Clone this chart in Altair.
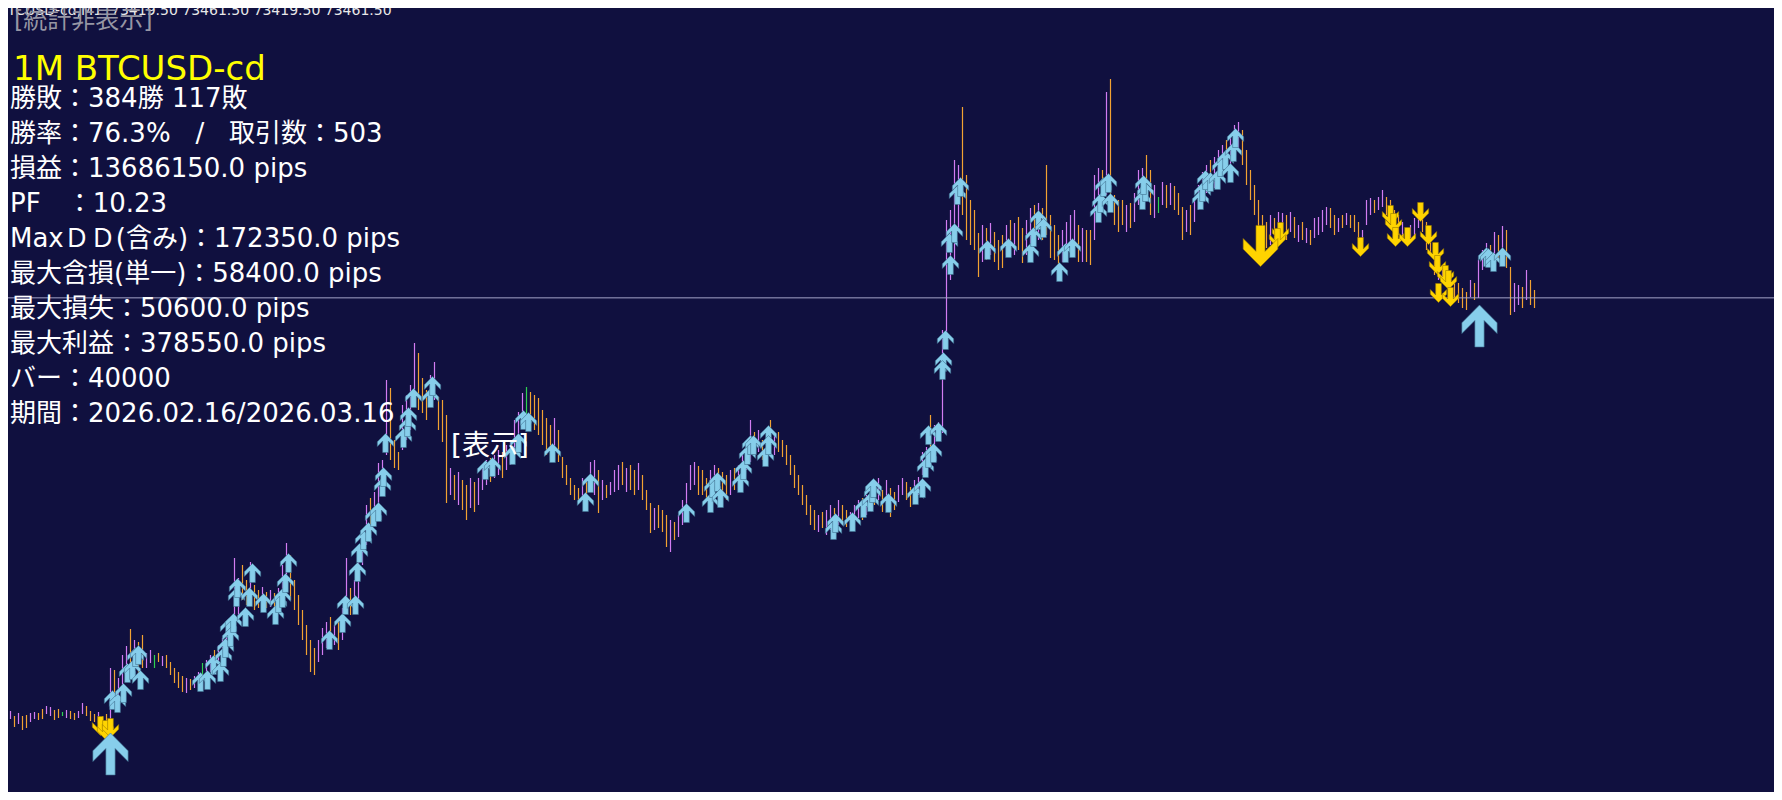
import altair as alt
import pandas as pd

# ---------------- data ----------------
HIGH = [
69320,69300,69330,69280,69310,69280,69290,69310,69320,69310,
69350,69380,69370,69340,69350,69320,69340,69330,69310,69330,
69410,69380,69330,69300,69320,69280,69300,69760,69740,69660,
69890,69980,70150,70040,70020,70090,69910,69940,69890,69910,
69880,69890,69820,69760,69720,69680,69660,69650,69680,69720,
69810,69840,69890,69940,69990,70060,70140,70270,70860,70660,
70790,70640,70820,70590,70540,70570,70520,70540,70510,70560,
70790,71010,70890,70640,70490,70340,70190,70040,69960,70040,
70160,70220,70270,70190,70240,70360,70860,70560,70640,70840,
71140,71390,71460,71520,71810,71840,72640,72560,72040,71920,
72390,72490,72590,73010,72910,72660,72540,72690,72820,72470,
72440,72290,71760,71690,71720,71640,71590,71660,71620,71660,
71790,71840,71860,71890,71940,71920,71990,72040,72240,72320,
72510,72570,72520,72490,72460,72340,72260,72190,72260,72140,
71870,71790,71660,71590,71560,71660,71640,71820,71840,71740,
71640,71590,71620,71740,71790,71820,71760,71790,71740,71810,
71690,71540,71410,71360,71390,71340,71290,71240,71220,71290,
71440,71610,71790,71820,71780,71740,71660,71740,71790,71760,
71720,71690,71740,71760,71790,71890,72040,72240,72120,72140,
72040,71990,72240,72090,72120,72040,71990,71890,71790,71690,
71590,71490,71390,71340,71290,71320,71340,71390,71360,71440,
71390,71340,71320,71390,71440,71460,71490,71590,71640,71660,
71540,71640,71560,71520,71590,71660,71620,71570,71640,71670,
71920,71970,72290,72190,72220,73140,74240,74340,74840,74790,
75370,74690,74440,74340,74110,74190,74160,74210,74120,74040,
74090,74190,74240,74210,74270,74160,74240,74360,74390,74410,
74360,74790,74290,74190,74090,74140,74220,74290,74340,74190,
74160,74140,74140,74690,74760,74740,75520,75650,74490,74440,
74440,74390,74410,74510,74740,74760,74890,74740,74590,74470,
74620,74590,74610,74580,74510,74370,74340,74390,74440,74590,
74720,74790,74840,74870,74940,74990,75040,75090,75190,75220,
75140,74940,74740,74590,74440,74290,74220,74290,74260,74320,
74310,74290,74320,74270,74190,74220,74160,74140,74260,74270,
74340,74370,74360,74290,74260,74290,74310,74290,74290,74220,
74140,74440,74460,74440,74470,74540,74470,74440,74340,74290,
74220,74160,74190,74260,74310,74290,74220,74090,73970,73890,
73790,73760,73690,73640,73610,73560,73520,73640,73610,73840,
73940,74010,73990,74120,74090,74180,74140,73770,73610,73590,
73570,73740,73640,73540,
]

LOW = [
69230,69200,69250,69170,69200,69140,69160,69220,69250,69240,
69250,69300,69280,69240,69260,69280,69260,69250,69240,69260,
69300,69280,69230,69220,69200,69170,69200,69210,69410,69440,
69540,69640,69760,69740,69690,69760,69760,69810,69760,69820,
69780,69760,69690,69610,69560,69520,69510,69540,69560,69600,
69660,69670,69720,69760,69810,69860,69940,70040,70190,70290,
70440,70390,70470,70340,70360,70390,70360,70370,70340,70410,
70490,70610,70440,70340,70190,70040,69890,69720,69690,69820,
69890,69960,70040,69990,69940,70040,70390,70290,70340,70440,
70790,70990,71090,71190,71340,71490,71890,71840,71760,71740,
71940,72040,72140,72440,72340,72310,72240,72390,72440,72140,
72020,71410,71490,71440,71390,71340,71240,71360,71320,71390,
71540,71590,71620,71660,71690,71660,71740,71790,71890,71990,
72190,72240,72160,72140,72090,71990,71890,71840,71940,71820,
71660,71590,71490,71440,71420,71460,71440,71520,71490,71310,
71440,71460,71490,71520,71540,71590,71520,71540,71490,71540,
71440,71340,71110,71140,71160,71120,70970,70920,71040,71070,
71190,71290,71540,71590,71490,71490,71440,71490,71540,71460,
71440,71440,71490,71540,71560,71640,71740,71820,71890,71920,
71840,71820,71890,71890,71920,71870,71790,71690,71560,71490,
71390,71290,71190,71140,71120,71160,71090,71140,71160,71190,
71190,71170,71160,71220,71260,71240,71290,71390,71390,71440,
71320,71390,71270,71340,71420,71490,71440,71370,71460,71490,
71690,71740,71840,71890,72040,72110,72970,73640,73820,74140,
74290,74040,73990,73940,73670,73820,73840,73890,73820,73740,
73760,73890,73940,73890,73940,73810,73890,73990,74020,74040,
74040,74090,73860,73840,73740,73820,73890,73990,73990,73820,
73820,73820,73790,74040,74440,74390,74490,74440,74190,74120,
74190,74120,74160,74220,74390,74440,74490,74290,74260,74310,
74390,74360,74390,74340,74290,74040,74120,74090,74220,74340,
74440,74510,74540,74560,74640,74690,74740,74790,74890,74940,
74790,74590,74440,74290,74160,74040,73960,73990,74040,74090,
74090,74040,74120,74060,74020,74040,74010,73990,74060,74090,
74120,74190,74160,74090,74120,74160,74190,74160,74120,74040,
74020,74190,74290,74310,74340,74370,74290,74240,74160,74090,
74040,74010,74060,74090,74160,74120,73940,73910,73690,73640,
73610,73590,73540,73460,73410,73360,73340,73470,73440,73460,
73740,73820,73790,73860,73820,73890,73760,73290,73320,73390,
73360,73440,73390,73360,
]

# u = up bar (close > open), d = down bar, g = unchanged
DIR_GROUPS = [
    "ddudu" "dduud", "duudd" "guddu", "udddu" "ddudu", "uudud" "duugd",
    "udddd" "duduu", "guudu" "uuuuu", "ddudd" "ududu", "uuddd" "ddddu",
    "uudud" "uuduu", "uuduu" "uuddd", "uuuud" "dduud", "ddudu" "ddudu",
    "uuduu" "duuuu", "ugddd" "dddud", "ddddd" "uduud", "uduuu" "duddu",
    "dddud" "ddudu", "uuuud" "dduud", "ddudu" "uuudu", "dddud" "ddddd",
    "ddddu" "duudu", "dduuu" "duudu", "duddu" "udduu", "uuduu" "uuuuu",
    "ddddd" "ududd", "dudud" "duudu", "ddddd" "uuuud", "udduu" "duddd",
    "duduu" "uddug", "ududd" "duduu", "uuduu" "uduuu", "ddddd" "ddudu",
    "ududu" "duduu", "uuddu" "duddd", "uuudu" "udddd", "uduuu" "ddddu",
    "uuddd" "ddudu", "uudud" "udduu", "dudd",
]
DIR = list("".join(DIR_GROUPS))

LAST_CLOSE = 73461.5

# buy signals (bar position, price)
UP_I = [27.5, 28.75, 30.25, 31.25, 32.5, 33.25, 34, 34.5, 49.5, 51.25, 52.75, 54.5,
        55.25, 55.75, 56.5, 57, 57.75, 58.5, 58.75, 60.75, 61.75, 62.5, 65.25, 68.25,
        69, 70, 70.75, 71.5, 81.75, 85, 85.75, 88.25, 88.75, 89.25, 90.25, 91.5,
        92.75, 94, 95, 95.25, 95.75, 100.25, 101.25, 101.5, 102.75, 107, 107.5, 120.75,
        122.5, 127.5, 129, 130.25, 131.5, 137.5, 145.75, 147, 171, 177, 177.5, 178.75,
        179.5, 184.5, 185.25, 186.25, 187, 187.75, 190.75, 191.5, 191.5, 207.75, 208.25, 212.5,
        215.25, 217, 217.5, 217.75, 221.5, 228.25, 230, 230.75, 231.5, 232.75, 231.5, 234,
        235.75, 235.25, 235, 237, 236.75, 238, 238.75, 239.5, 246.25, 251.5, 257, 257.75,
        259, 260.25, 264.25, 265.75, 267.5, 274, 274.5, 275.25, 276.5, 277, 285, 285.75,
        285.25, 299.5, 300, 300.75, 302, 303.75, 304.5, 305.75, 307, 307.75, 308.25, 371,
        371.5, 372.75, 375]
UP_P = [69440, 69410, 69510, 69710, 69740, 69870, 69890, 69640, 69620, 69640, 69790, 69720,
        69870, 69960, 70160, 70070, 70210, 70470, 70560, 70270, 70470, 70710, 70410, 70290,
        70410, 70460, 70610, 70810, 70040, 70210, 70390, 70390, 70720, 70910, 71040, 71120,
        71270, 71320, 71570, 71670, 72010, 72060, 72170, 72270, 72460, 72460, 72580, 71740,
        71770, 71890, 72010, 72240, 72220, 71910, 71420, 71610, 71310, 71410, 71560, 71620,
        71460, 71610, 71740, 71890, 71990, 71990, 71870, 72090, 71990, 71140, 71210, 71220,
        71360, 71420, 71510, 71560, 71410, 71490, 71560, 71760, 71860, 71910, 72090, 72120,
        73040, 72820, 72740, 73790, 74010, 74110, 74490, 74570, 73940, 73960, 73910, 74070,
        74240, 74160, 73720, 73910, 73960, 74310, 74410, 74570, 74610, 74410, 74440, 74520,
        74590, 74440, 74520, 74640, 74620, 74640, 74770, 74840, 74710, 74920, 75060, 73870,
        73860, 73820, 73870]

# sell signals
DN_I = [24.5, 25.75, 27, 319.5, 318.75, 339.5, 347, 347.75, 348.25, 351.25, 354.5, 356.5,
        358.25, 358.75, 360.75, 361.5, 359, 362]
DN_P = [69180, 69140, 69160, 74120, 74060, 73970, 74290, 74210, 74070, 74070, 74320, 74090,
        73920, 73790, 73690, 73640, 73510, 73470]

BIG_UP_I = [27, 369.25]
BIG_UP_P = [68900, 73180]
BIG_DN_I = [314.5]
BIG_DN_P = [73980]

NB = "\u00a0"
TOP_LINE = f"BTCUSD-cd,M1{NB}{NB}73419.50 73461.50 73419.50 73461.50"
HIDE_LABEL = "[統計非表示]"
TITLE = "1M BTCUSD-cd"
STATS = [
    "勝敗：384勝 117敗",
    f"勝率：76.3%{NB}{NB}{NB}/{NB}{NB}{NB}取引数：503",
    "損益：13686150.0 pips",
    "PF　：10.23",
    "MaxＤＤ(含み)：172350.0 pips",
    "最大含損(単一)：58400.0 pips",
    "最大損失：50600.0 pips",
    "最大利益：378550.0 pips",
    "バー：40000",
    "期間：2026.02.16/2026.03.16",
]
SHOW_LABEL = "[表示]"

# ---------------- styling ----------------
BG = "#10103F"
VIOLET = "#D27CF2"
ORANGE = "#F2A232"
GREEN = "#30D050"
SKY = "#87CEEB"
GOLD = "#FFD400"
LINE = "#A4A4C8"
FONT = "DejaVu Sans, Noto Sans CJK JP, sans-serif"

UP_BIG = "M0,-1L0.84,-0.15L0.84,0.36L0.22,-0.26L0.22,1L-0.22,1L-0.22,-0.26L-0.84,0.36L-0.84,-0.15Z"
DN_BIG = "M0,1L0.84,0.15L0.84,-0.36L0.22,0.26L0.22,-1L-0.22,-1L-0.22,0.26L-0.84,-0.36L-0.84,0.15Z"
UP_SMALL = "M0,-1L0.86,-0.12L0.86,0.36L0.3,-0.2L0.3,1L-0.3,1L-0.3,-0.2L-0.86,0.36L-0.86,-0.12Z"
DN_SMALL = "M0,1L0.86,0.12L0.86,-0.36L0.3,0.2L0.3,-1L-0.3,-1L-0.3,0.2L-0.86,-0.36L-0.86,0.12Z"

N = len(HIGH)
if not (len(LOW) == N and len(DIR) == N):
    raise ValueError(f"length mismatch {len(HIGH)} {len(LOW)} {len(DIR)}")

W, H = 1766, 784
xs = alt.Scale(domain=[1.375, 442.875], nice=False, zero=False)
ys = alt.Scale(domain=[68520, 76360], nice=False, zero=False)

bars = pd.DataFrame({"i": list(range(N)), "hi": HIGH, "lo": LOW, "dir": DIR})

bar_layer = alt.Chart(bars).mark_rule(strokeWidth=1.2, clip=True).encode(
    x=alt.X("i:Q", scale=xs, axis=None),
    y=alt.Y("hi:Q", scale=ys, axis=None),
    y2="lo:Q",
    color=alt.Color("dir:N", scale=alt.Scale(domain=["u", "d", "g"], range=[VIOLET, ORANGE, GREEN]),
                    legend=None),
)

price_line = alt.Chart(pd.DataFrame({"p": [LAST_CLOSE]})).mark_rule(color=LINE, strokeWidth=1).encode(
    y=alt.Y("p:Q", scale=ys, axis=None)
)


def arrows(idx, price, path, size, color, stroke):
    df = pd.DataFrame({"i": idx, "p": price})
    return alt.Chart(df).mark_point(shape=path, filled=True, size=size, color=color, opacity=1,
                                    stroke=stroke, strokeWidth=0.6, clip=True).encode(
        x=alt.X("i:Q", scale=xs, axis=None),
        y=alt.Y("p:Q", scale=ys, axis=None),
    )


up_small = arrows(UP_I, UP_P, UP_SMALL, 360, SKY, "#3F7090")
dn_small = arrows(DN_I, DN_P, DN_SMALL, 360, GOLD, "#9A7A00")
up_big = arrows(BIG_UP_I, BIG_UP_P, UP_BIG, 1760, SKY, "#3F7090")
dn_big = arrows(BIG_DN_I, BIG_DN_P, DN_BIG, 1700, GOLD, "#9A7A00")


def label(txt, x, y, size, color):
    return alt.Chart(pd.DataFrame({"t": [txt]})).mark_text(
        align="left", baseline="alphabetic", font=FONT, fontSize=size, color=color
    ).encode(text="t:N", x=alt.value(x), y=alt.value(y))


texts = [
    label(TOP_LINE, -10, 7, 14, "#E8E8E8"),
    label(HIDE_LABEL, 6, 20, 24, "#9696A4"),
    label(TITLE, 5, 72, 34, "#FFFF00"),
    label(SHOW_LABEL, 443, 447, 28, "#FFFFFF"),
]
for k, s in enumerate(STATS):
    texts.append(label(s, 2, 99 + 35 * k, 26, "#FFFFFF"))

chart = alt.layer(bar_layer, price_line, up_small, dn_small, up_big, dn_big, *texts).properties(
    width=W, height=H, background=BG, padding=0,
    autosize=alt.AutoSizeParams(type="none"),
).configure_view(strokeWidth=0)

chart.save("out.html", embed_options={"renderer": "svg", "actions": False})
